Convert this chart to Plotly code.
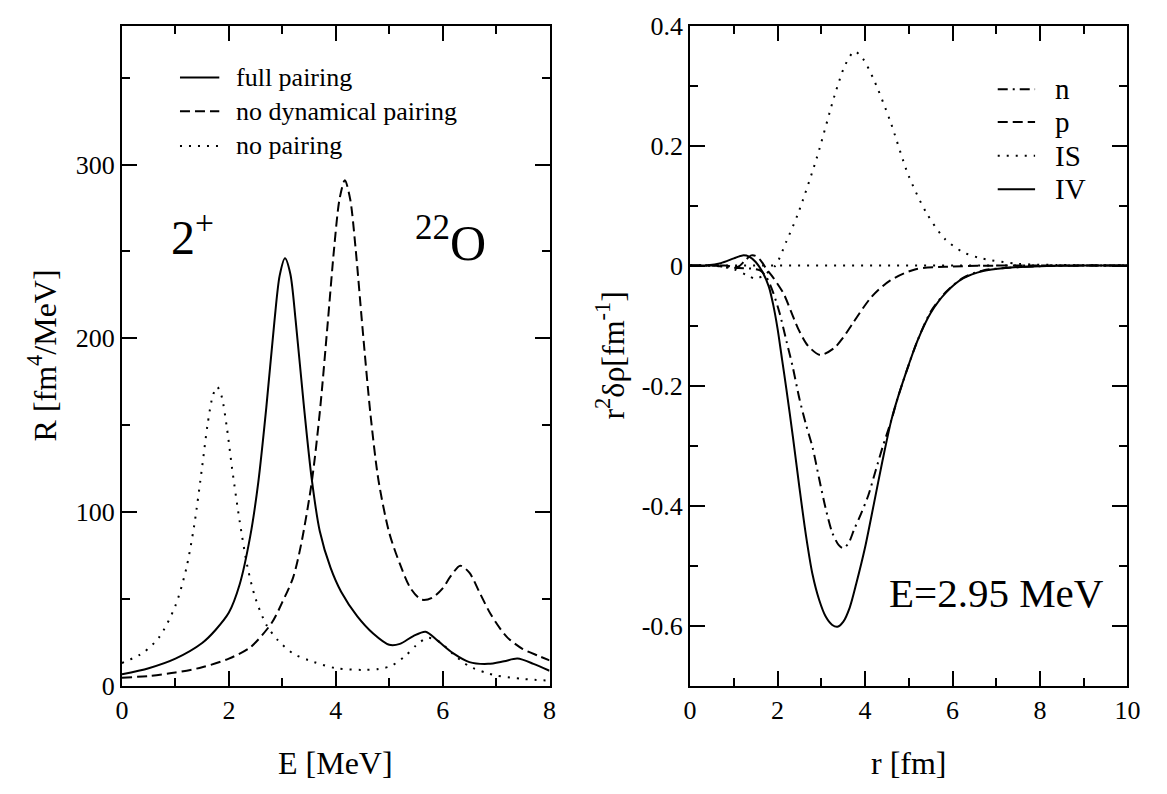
import plotly.graph_objects as go

# ---------------- Left panel data: R(E) ----------------
E_full = [0, 0.5, 1.0, 1.5, 1.75, 2.0, 2.2, 2.4, 2.55, 2.7, 2.85, 2.95, 3.05, 3.15, 3.25, 3.4, 3.55, 3.7, 3.9, 4.1, 4.4, 4.7, 5.0, 5.2, 5.45, 5.68, 5.9, 6.2, 6.5, 6.85, 7.15, 7.4, 7.7, 8.0]
R_full = [6.5, 10, 15.5, 24.5, 32, 42, 58, 86, 117, 160, 209, 236, 246, 237, 210, 162, 119, 89, 68, 54, 40, 30, 23.5, 24, 28.5, 31, 26, 18.5, 13.5, 12.5, 14, 15.5, 12.5, 8.5]

E_nodyn = [0, 0.5, 1.0, 1.5, 2.0, 2.4, 2.8, 3.0, 3.2, 3.35, 3.55, 3.7, 3.85, 3.97, 4.07, 4.17, 4.27, 4.37, 4.5, 4.65, 4.8, 5.0, 5.2, 5.4, 5.6, 5.8, 6.0, 6.15, 6.33, 6.5, 6.7, 6.9, 7.2, 7.5, 7.8, 8.0]
R_nodyn = [4.5, 5.5, 7.5, 10.5, 15.5, 22, 36, 48, 62, 81, 117, 157, 209, 252, 280, 291, 280, 252, 206, 156, 118, 88, 70, 56, 49.5, 50.5, 56, 63, 69, 65, 53, 41, 28, 21, 17, 14.5]

E_nopair = [0, 0.4, 0.7, 1.0, 1.2, 1.35, 1.5, 1.6, 1.7, 1.78, 1.86, 1.96, 2.06, 2.2, 2.35, 2.5, 2.7, 2.92, 3.2, 3.5, 4.0, 4.5, 4.8, 5.05, 5.3, 5.5, 5.72, 5.95, 6.2, 6.5, 6.8, 7.0, 7.5, 8.0]
R_nopair = [13, 19, 28, 46, 67, 92, 126, 150, 167, 172, 167, 149, 125, 95, 68, 50, 35, 26, 18.5, 14.5, 10, 9, 9.5, 11.5, 17, 23, 27.5, 25, 18, 11, 7.5, 5.8, 3.8, 2.8]

# ---------------- Right panel data: r^2 delta rho ----------------
r_n = [0, 0.5, 0.8, 1.1, 1.4, 1.6, 1.75, 1.9, 2.05, 2.2, 2.35, 2.5, 2.65, 2.8, 2.95, 3.1, 3.25, 3.4, 3.5, 3.62, 3.75, 3.9, 4.07, 4.25, 4.4, 4.6, 4.75, 5.0, 5.2, 5.5, 5.85, 6.25, 6.7, 7.2, 8.0, 9.0, 10]
d_n = [0, 0, -0.002, -0.004, -0.005, -0.008, -0.02, -0.045, -0.08, -0.125, -0.17, -0.222, -0.265, -0.303, -0.355, -0.405, -0.445, -0.466, -0.471, -0.463, -0.44, -0.415, -0.384, -0.34, -0.303, -0.258, -0.22, -0.165, -0.125, -0.077, -0.044, -0.02, -0.008, -0.004, -0.001, 0, 0]

r_p = [0, 0.8, 1.1, 1.25, 1.4, 1.5, 1.62, 1.75, 1.9, 2.14, 2.3, 2.47, 2.7, 2.98, 3.3, 3.5, 3.73, 4.15, 4.57, 5.16, 5.83, 7.0, 10]
d_p = [0, 0, -0.002, 0.008, 0.017, 0.016, 0.008, -0.006, -0.02, -0.047, -0.075, -0.105, -0.134, -0.149, -0.137, -0.12, -0.095, -0.052, -0.025, -0.006, -0.002, 0, 0]

r_is = [0, 0.5, 1.0, 1.3, 1.5, 1.7, 1.95, 2.2, 2.47, 2.89, 3.31, 3.55, 3.76, 3.95, 4.2, 4.57, 4.99, 5.41, 5.83, 6.25, 6.67, 7.5, 8.5, 10]
d_is = [0, 0, -0.006, -0.016, -0.022, -0.015, 0.0, 0.04, 0.087, 0.178, 0.285, 0.335, 0.357, 0.345, 0.31, 0.242, 0.151, 0.087, 0.044, 0.022, 0.012, 0.003, 0.001, 0]

r_iv = [0, 0.4, 0.7, 1.0, 1.2, 1.35, 1.5, 1.65, 1.8, 1.9, 2.0, 2.1, 2.2, 2.35, 2.5, 2.65, 2.8, 2.95, 3.1, 3.25, 3.37, 3.5, 3.65, 3.8, 4.0, 4.2, 4.4, 4.6, 4.75, 5.0, 5.2, 5.5, 5.85, 6.25, 6.7, 7.2, 8.0, 9.0, 10]
d_iv = [0, 0.0005, 0.004, 0.012, 0.017, 0.015, 0.006, -0.01, -0.035, -0.065, -0.105, -0.155, -0.205, -0.285, -0.37, -0.45, -0.515, -0.557, -0.585, -0.599, -0.602, -0.594, -0.57, -0.53, -0.47, -0.398, -0.325, -0.258, -0.22, -0.165, -0.125, -0.079, -0.045, -0.021, -0.009, -0.004, -0.001, 0, 0]

r_zero = [0, 10]
d_zero = [0, 0]

left_names = ["full pairing", "no dynamical pairing", "no pairing"]
right_names = ["n", "p", "IS", "IV"]

left_xticks = [0, 2, 4, 6, 8]
left_yticks = [0, 100, 200, 300]
right_xticks = [0, 2, 4, 6, 8, 10]
right_yticks = [-0.6, -0.4, -0.2, 0, 0.2, 0.4]
right_ytext = ["-0.6", "-0.4", "-0.2", "0", "0.2", "0.4"]

FONT = "Liberation Serif"
W, H = 1167, 794

SOLID = "solid"
DASH = "10px,5px"
DOT = "2px,7px"
DASHDOT = "10px,5px,2px,5px"

fig = go.Figure()


def add(x, y, name, dash, xa, ya):
    fig.add_trace(go.Scatter(
        x=x, y=y, name=name, mode="lines",
        line=dict(color="black", width=2, dash=dash, shape="spline", smoothing=0.8),
        xaxis=xa, yaxis=ya, showlegend=False,
    ))


left_dashes = [SOLID, DASH, DOT]
right_dashes = [DASHDOT, DASH, DOT, SOLID]

add(E_full, R_full, left_names[0], left_dashes[0], "x", "y")
add(E_nodyn, R_nodyn, left_names[1], left_dashes[1], "x", "y")
add(E_nopair, R_nopair, left_names[2], left_dashes[2], "x", "y")

add(r_zero, d_zero, "zero", DOT, "x2", "y2")
add(r_n, d_n, right_names[0], right_dashes[0], "x2", "y2")
add(r_p, d_p, right_names[1], right_dashes[1], "x2", "y2")
add(r_is, d_is, right_names[2], right_dashes[2], "x2", "y2")
add(r_iv, d_iv, right_names[3], right_dashes[3], "x2", "y2")


def px_x(p):
    return p / W


def px_y(p):
    return 1 - p / H


ydom = [px_y(697), px_y(12)]
axis_common = dict(
    showline=True, linecolor="black", linewidth=2, mirror="allticks",
    ticks="inside", ticklen=15, tickwidth=2, tickcolor="black",
    showgrid=False, zeroline=False, ticklabeloverflow="allow",
    tickfont=dict(family=FONT, size=26, color="black"),
)


def minor(d):
    return dict(ticks="inside", ticklen=8, tickwidth=2, tickcolor="black", dtick=d, showgrid=False)


fig.update_layout(
    width=W, height=H,
    margin=dict(l=0, r=0, t=0, b=0),
    paper_bgcolor="white", plot_bgcolor="white",
    font=dict(family=FONT, color="black"),
    showlegend=False,
    xaxis=dict(domain=[px_x(117), px_x(552)], range=[0, 8], tickvals=left_xticks,
               minor=minor(1), anchor="y", **axis_common),
    yaxis=dict(domain=ydom, range=[0, 380], tickvals=left_yticks,
               minor=minor(50), anchor="x", **axis_common),
    xaxis2=dict(domain=[px_x(695), px_x(1140)], range=[0, 10], tickvals=right_xticks,
                minor=minor(1), anchor="y2", **axis_common),
    yaxis2=dict(domain=ydom, range=[-0.7, 0.4001], tickvals=right_yticks, ticktext=right_ytext,
                minor=minor(0.1), anchor="x2", **axis_common),
)

ann = [
    dict(text="E [MeV]", x=px_x(334.5), y=px_y(777), font=dict(family=FONT, size=32)),
    dict(text="r [fm]", x=px_x(917.5), y=px_y(777), font=dict(family=FONT, size=32)),
    dict(text="R [fm<sup>4</sup>/MeV]", x=px_x(36), y=px_y(354), textangle=-90,
         font=dict(family=FONT, size=32)),
    dict(text="r<sup>2</sup>δρ[fm<sup>-1</sup>]", x=px_x(614), y=px_y(354), textangle=-90,
         font=dict(family=FONT, size=32)),
]
for a in ann:
    a.update(xref="paper", yref="paper", showarrow=False, xanchor="center", yanchor="middle")

ann += [
    dict(text="2<sup>+</sup>", x=1.32, y=260, xref="x", yref="y", showarrow=False,
         xanchor="center", yanchor="middle", font=dict(family=FONT, size=48)),
    dict(text="<sup>22</sup>O", x=6.15, y=257, xref="x", yref="y", showarrow=False,
         xanchor="center", yanchor="middle", font=dict(family=FONT, size=50)),
    dict(text="E=2.95 MeV", x=7.0, y=-0.545, xref="x2", yref="y2", showarrow=False,
         xanchor="center", yanchor="middle", font=dict(family=FONT, size=41)),
]

# legends (sample line + label)
shapes = []
left_rows = [66, 101, 137]
for name, dash, row in zip(left_names, left_dashes, left_rows):
    shapes.append(dict(type="line", xref="paper", yref="paper",
                       x0=px_x(176), x1=px_x(216), y0=px_y(row), y1=px_y(row),
                       line=dict(color="black", width=2, dash=dash)))
    ann.append(dict(text=name, x=px_x(231), y=px_y(row), xref="paper", yref="paper",
                    showarrow=False, xanchor="left", yanchor="middle",
                    font=dict(family=FONT, size=26)))

right_rows = [78, 112, 147, 182]
for name, dash, row in zip(right_names, right_dashes, right_rows):
    shapes.append(dict(type="line", xref="paper", yref="paper",
                       x0=px_x(1008), x1=px_x(1046), y0=px_y(row), y1=px_y(row),
                       line=dict(color="black", width=2, dash=dash)))
    ann.append(dict(text=name, x=px_x(1064), y=px_y(row), xref="paper", yref="paper",
                    showarrow=False, xanchor="left", yanchor="middle",
                    font=dict(family=FONT, size=29)))

fig.update_layout(annotations=ann, shapes=shapes)

fig.write_html("out.html")
